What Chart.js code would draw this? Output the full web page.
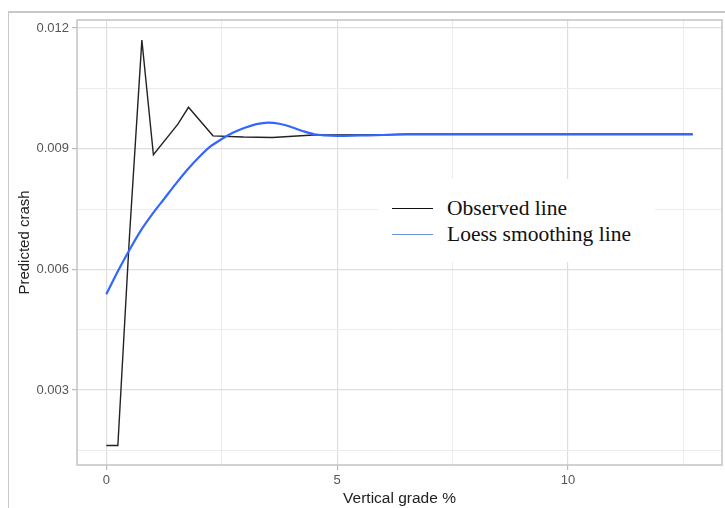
<!DOCTYPE html>
<html>
<head>
<meta charset="utf-8">
<script src="https://cdn.jsdelivr.net/npm/chart.js@4"></script>
<style>
  html, body { margin: 0; padding: 0; background: #fff; }
  #wrap { position: relative; width: 725px; height: 508px; overflow: hidden; }
  #frame { position: absolute; left: 8px; top: 11px; width: 730px; height: 520px;
           border-left: 1px solid #c8c8c8; border-top: 2px solid #c8c8c8; }
  #legend { position: absolute; left: 378px; top: 179px; width: 277px; height: 83px;
            background: #fff; font-family: "Liberation Serif", "Times New Roman", serif;
            font-size: 21.5px; color: #111; }
  .item { position: absolute; left: 14px; height: 24px; display: flex; align-items: center; }
  .item span.line { display: inline-block; width: 41px; height: 0; margin-right: 14px; }
</style>
</head>
<body>
<div id="wrap">
  <div id="frame"></div>
  <canvas id="myChart" width="725" height="508"></canvas>
  <div id="legend"></div>
</div>
<script>
const ctx = document.getElementById('myChart');

// Observed predicted crash by vertical grade
const obsGrade = [0, 0.25, 0.5, 0.77, 1.02, 1.55, 1.78, 2.31, 2.97, 3.6, 4.48, 6.5, 12.7];
const obsCrash = [0.00162, 0.00162, 0.0068, 0.0117, 0.00885, 0.00961, 0.01003, 0.00932, 0.00929, 0.00928, 0.00934, 0.00935, 0.00935];

// Loess smoothing line
const loessGrade = [0, 0.25, 0.5, 0.75, 1.0, 1.25, 1.5, 1.75, 2.0, 2.25, 2.5, 2.75, 3.0, 3.25, 3.5, 3.75, 4.0, 4.25, 4.5, 4.75, 5.0, 5.5, 6.0, 6.5, 9.0, 12.7];
const loessCrash = [0.00538, 0.00595, 0.00648, 0.00697, 0.00738, 0.00775, 0.00812, 0.00847, 0.00878, 0.00905, 0.00924, 0.0094, 0.00952, 0.00961, 0.00965, 0.00962, 0.00954, 0.00944, 0.00936, 0.00933, 0.00932, 0.00933, 0.00934, 0.00936, 0.00936, 0.00936];

const xTicks = [0, 2.5, 5, 7.5, 10, 12.5];
const xLabels = ['0', '', '5', '', '10', ''];
const yTicks = [0.0015, 0.003, 0.0045, 0.006, 0.0075, 0.009, 0.0105, 0.012];
const yLabels = ['', '0.003', '', '0.006', '', '0.009', '', '0.012'];

const seriesNames = ['Observed line', 'Loess smoothing line'];
const seriesColors = ['#222222', '#3366ff'];
const legendColors = ['#111111', '#6f94dc'];

const toPoints = (xs, ys) => xs.map((x, i) => ({ x: x, y: ys[i] }));

// panel frame round the chart area
const panelBorder = {
  id: 'panelBorder',
  afterDraw(chart) {
    const a = chart.chartArea;
    const c = chart.ctx;
    c.save();
    c.strokeStyle = '#c4c4c4';
    c.lineWidth = 1.5;
    c.strokeRect(a.left, a.top, a.right - a.left, a.bottom - a.top);
    c.restore();
  }
};

const chart = new Chart(ctx, {
  type: 'line',
  data: {
    datasets: [{
      label: seriesNames[0],
      data: toPoints(obsGrade, obsCrash),
      borderColor: seriesColors[0],
      borderWidth: 1.4,
      pointRadius: 0,
      tension: 0,
      order: 2
    }, {
      label: seriesNames[1],
      data: toPoints(loessGrade, loessCrash),
      borderColor: seriesColors[1],
      borderWidth: 2.2,
      pointRadius: 0,
      cubicInterpolationMode: 'monotone',
      order: 1
    }]
  },
  options: {
    responsive: false,
    animation: false,
    layout: { padding: { top: 20, right: 3, left: 0, bottom: 0 } },
    plugins: {
      legend: { display: false },
      tooltip: { enabled: false }
    },
    scales: {
      x: {
        type: 'linear',
        min: -0.635,
        max: 13.335,
        afterBuildTicks: (scale) => { scale.ticks = xTicks.map(v => ({ value: v })); },
        afterFit: (scale) => { scale.height = 43; },
        ticks: {
          autoSkip: false,
          maxRotation: 0,
          padding: 3,
          color: '#555',
          font: { family: 'Liberation Sans, Arial', size: 13 },
          callback: (v, i) => xLabels[i]
        },
        grid: {
          color: (c) => c.index % 2 === 0 ? '#dedede' : '#ececec',
          lineWidth: (c) => c.index % 2 === 0 ? 1.2 : 1,
          tickColor: (c) => c.index % 2 === 0 ? '#bbbbbb' : 'rgba(0,0,0,0)',
          tickLength: 5
        },
        border: { display: false },
        title: {
          display: true,
          text: 'Vertical grade %',
          color: '#222',
          font: { family: 'Liberation Sans, Arial', size: 15.5 },
          padding: { top: 0, bottom: 0 }
        }
      },
      y: {
        type: 'linear',
        min: 0.001135,
        max: 0.0122,
        afterBuildTicks: (scale) => { scale.ticks = yTicks.map(v => ({ value: v })); },
        afterFit: (scale) => { scale.width = 77; },
        ticks: {
          autoSkip: false,
          padding: 3,
          color: '#555',
          font: { family: 'Liberation Sans, Arial', size: 13 },
          callback: (v, i) => yLabels[i]
        },
        grid: {
          color: (c) => c.index % 2 === 1 ? '#dedede' : '#ececec',
          lineWidth: (c) => c.index % 2 === 1 ? 1.2 : 1,
          tickColor: (c) => c.index % 2 === 1 ? '#bbbbbb' : 'rgba(0,0,0,0)',
          tickLength: 5
        },
        border: { display: false },
        title: {
          display: true,
          text: 'Predicted crash',
          color: '#222',
          font: { family: 'Liberation Sans, Arial', size: 15 },
          padding: { top: 16, bottom: 0 }
        }
      }
    }
  },
  plugins: [panelBorder]
});

// legend box built from the datasets
const legend = document.getElementById('legend');
chart.data.datasets.forEach((ds, i) => {
  const item = document.createElement('div');
  item.className = 'item';
  item.style.top = (17 + i * 26) + 'px';
  const line = document.createElement('span');
  line.className = 'line';
  line.style.borderTop = '1.5px solid ' + legendColors[i];
  const txt = document.createElement('span');
  txt.textContent = ds.label;
  item.appendChild(line);
  item.appendChild(txt);
  legend.appendChild(item);
});
</script>
</body>
</html>
